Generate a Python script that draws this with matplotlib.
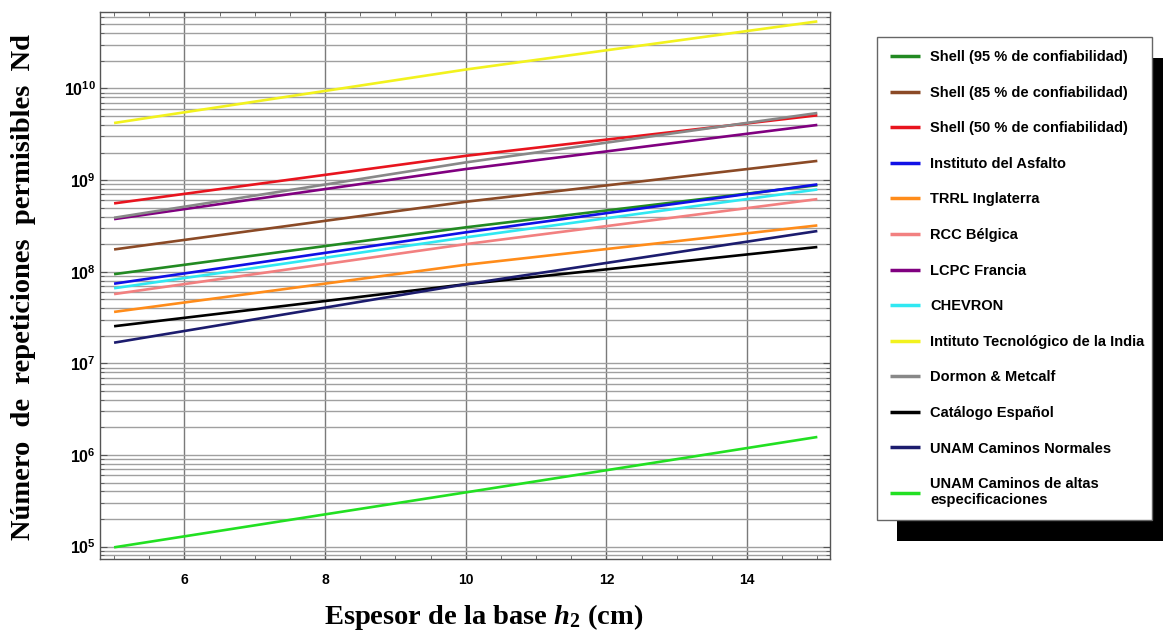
import math
import matplotlib
matplotlib.use("Agg")
import matplotlib.pyplot as plt
from matplotlib.ticker import FixedLocator, FuncFormatter, MultipleLocator, NullFormatter
from matplotlib.patches import Rectangle

plt.rcParams["mathtext.fontset"] = "custom"
plt.rcParams["mathtext.rm"] = "Liberation Serif:bold"
plt.rcParams["mathtext.it"] = "Liberation Serif:italic:bold"
plt.rcParams["mathtext.bf"] = "Liberation Serif:bold"
plt.rcParams["mathtext.sf"] = "Liberation Sans:bold"

# Base thickness h2 (cm) at which each method is evaluated
espesor = [5, 10, 15]

# Allowable repetitions Nd for each design method
shell_95 = [9.4e7, 3.05e8, 8.8e8]
shell_85 = [1.75e8, 5.8e8, 1.62e9]
shell_50 = [5.57e8, 1.84e9, 5.1e9]
instituto_asfalto = [7.4e7, 2.69e8, 8.97e8]
trrl_inglaterra = [3.64e7, 1.19e8, 3.2e8]
rcc_belgica = [5.7e7, 2.0e8, 6.2e8]
lcpc_francia = [3.75e8, 1.32e9, 4.0e9]
chevron = [6.6e7, 2.37e8, 7.9e8]
tecnologico_india = [4.2e9, 1.61e10, 5.4e10]
dormon_metcalf = [3.88e8, 1.56e9, 5.4e9]
catalogo_espanol = [2.54e7, 7.3e7, 1.86e8]
unam_normales = [1.68e7, 7.3e7, 2.78e8]
unam_altas = [9.8e4, 3.9e5, 1.57e6]

# Axis ticks
x_ticks = [6, 8, 10, 12, 14]
y_decades = [5, 6, 7, 8, 9, 10]

series = [
    ("Shell (95 % de confiabilidad)", shell_95, "#228a22"),
    ("Shell (85 % de confiabilidad)", shell_85, "#8b4a26"),
    ("Shell (50 % de confiabilidad)", shell_50, "#e8141e"),
    ("Instituto del Asfalto", instituto_asfalto, "#1010e6"),
    ("TRRL Inglaterra", trrl_inglaterra, "#ff8c1a"),
    ("RCC Bélgica", rcc_belgica, "#f28080"),
    ("LCPC Francia", lcpc_francia, "#800080"),
    ("CHEVRON", chevron, "#30e8f2"),
    ("Intituto Tecnológico de la India", tecnologico_india, "#f2f21e"),
    ("Dormon & Metcalf", dormon_metcalf, "#888888"),
    ("Catálogo Español", catalogo_espanol, "#000000"),
    ("UNAM Caminos Normales", unam_normales, "#1c1c6e"),
    ("UNAM Caminos de altas\nespecificaciones", unam_altas, "#22e022"),
]

W, H = 1163, 635
fig = plt.figure(figsize=(W / 100, H / 100), dpi=100)
ax = fig.add_axes([100 / W, 1 - 559 / H, 730 / W, 547 / H])

for label, vals, color in series:
    ax.plot(espesor, vals, color=color, lw=1.9, label=label, solid_capstyle="butt")

ax.set_yscale("log")
ax.set_xlim(4.80, 15.18)
ax.set_ylim(10 ** 4.864, 10 ** 10.835)

ax.xaxis.set_major_locator(FixedLocator(x_ticks))
ax.xaxis.set_minor_locator(MultipleLocator(0.5))
ax.xaxis.set_minor_formatter(NullFormatter())

y_major = [10.0 ** d for d in y_decades]
y_minor = [m * 10.0 ** d for d in [4] + y_decades for m in range(2, 10)]
lo, hi = ax.get_ylim()
ax.yaxis.set_major_locator(FixedLocator(y_major))
ax.yaxis.set_minor_locator(FixedLocator([v for v in y_minor if lo <= v <= hi]))
ax.yaxis.set_minor_formatter(NullFormatter())
ax.yaxis.set_major_formatter(FuncFormatter(lambda v, p: r"$\mathsf{10^{%d}}$" % round(math.log10(v))))

ax.tick_params(axis="both", which="both", direction="in", top=True, right=True,
               color="#555555")
ax.tick_params(axis="x", which="major", length=5, labelsize=10, pad=10)
ax.tick_params(axis="x", which="minor", length=3)
ax.tick_params(axis="y", which="major", length=5, labelsize=11.5, pad=3)
ax.tick_params(axis="y", which="minor", length=3)
for t in ax.get_xticklabels():
    t.set_fontfamily("Liberation Sans")
    t.set_fontweight("bold")

ax.grid(True, axis="y", which="both", color="#a0a0a0", lw=1.0)
ax.grid(True, axis="x", which="major", color="#7a7a7a", lw=1.0)
ax.set_axisbelow(True)
for s in ax.spines.values():
    s.set_color("#555555")
    s.set_linewidth(1.0)

ax.set_ylabel("Número  de  repeticiones  permisibles  Nd", fontfamily="Liberation Serif",
              fontweight="bold", fontsize=20.5)
ax.yaxis.set_label_coords(-64 / 730, 0.497)
ax.set_xlabel(r"Espesor de la base $h_2$ (cm)", fontfamily="Liberation Serif",
              fontweight="bold", fontsize=20.5)
ax.xaxis.set_label_coords(0.525, -43 / 547)

# Legend box with a solid drop shadow
lx0, ly0, lx1 = 877, 37, 1152
leg = fig.legend(loc="upper left", bbox_to_anchor=(lx0 / W, 1 - ly0 / H, (lx1 - lx0) / W, 0),
                 mode="expand", fancybox=False, framealpha=1, edgecolor="#666666",
                 prop={"family": "Liberation Sans", "weight": "bold", "size": 10.5},
                 labelspacing=1.48, handlelength=2.05, handletextpad=0.7, borderpad=0.9,
                 borderaxespad=0)
leg.get_frame().set_linewidth(1.0)
for h in leg.legend_handles:
    h.set_linewidth(2.5)
fig.canvas.draw()
bb = leg.get_window_extent()
shadow = Rectangle((bb.x0 + 20, bb.y0 - 21), bb.width, bb.height, transform=None,
                   facecolor="black", edgecolor="none", zorder=4)
fig.patches.append(shadow)
shadow.set_figure(fig)

fig.savefig("out.png", dpi=100)
